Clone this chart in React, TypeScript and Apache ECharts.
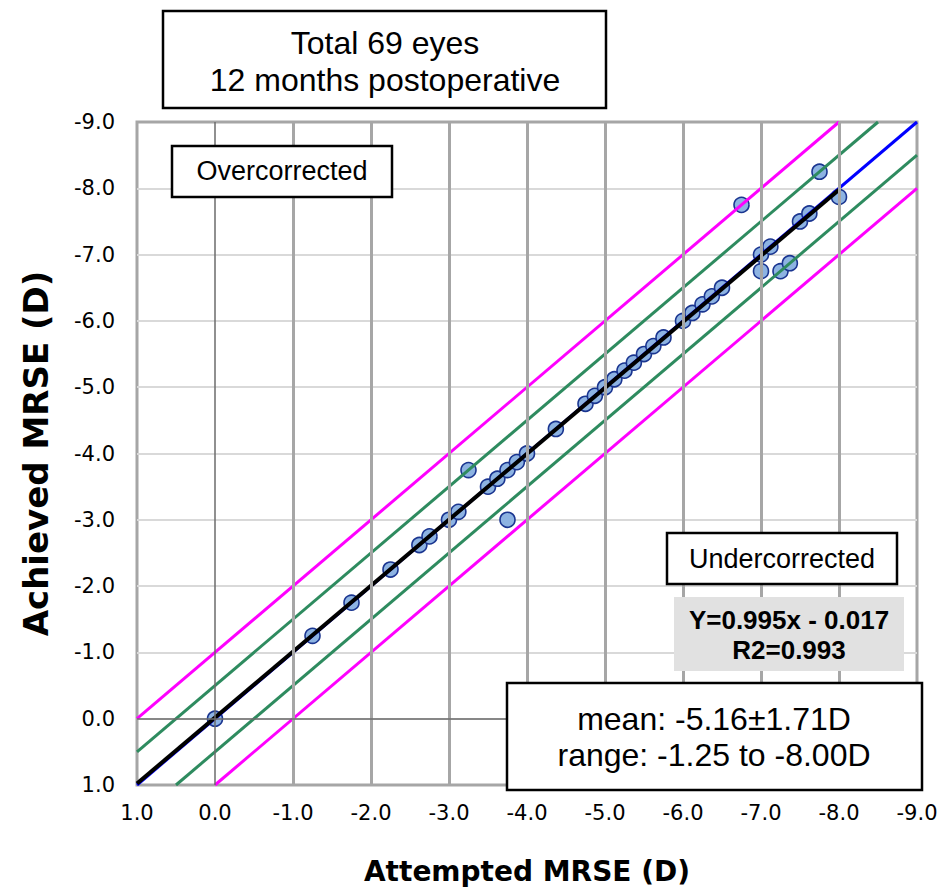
import React, { useEffect, useRef } from "react";
import * as echarts from "echarts";

// Attempted vs achieved MRSE (D)
const attempted = [
  0.0, -1.25, -1.75, -2.25, -2.62, -2.75, -3.0, -3.12, -3.25, -3.5, -3.62, -3.75, -3.75, -3.87, -4.0,
  -4.37, -4.75, -4.87, -5.0, -5.12, -5.25, -5.37, -5.5, -5.62, -5.75, -6.0, -6.12, -6.25, -6.37, -6.5,
  -6.75, -7.0, -7.12, -7.0, -7.25, -7.37, -7.5, -7.62, -7.75, -8.0,
];
const achieved = [
  0.0, -1.25, -1.75, -2.25, -2.62, -2.75, -3.0, -3.12, -3.75, -3.5, -3.62, -3.0, -3.75, -3.87, -4.0,
  -4.37, -4.75, -4.87, -5.0, -5.12, -5.25, -5.37, -5.5, -5.62, -5.75, -6.0, -6.12, -6.25, -6.37, -6.5,
  -7.75, -7.0, -7.12, -6.75, -6.75, -6.87, -7.5, -7.62, -8.25, -7.87,
];

// Reference lines (attempted, achieved)
const identityLine = [[1, 1], [-9, -9]];
const plusOneUpper = [[1, 0], [-8, -9]];
const plusOneLower = [[0, 1], [-9, -8]];
const halfUpper = [[1, 0.5], [-8.5, -9]];
const halfLower = [[0.5, 1], [-9, -8.5]];

// Trend line Y = 0.995x - 0.017
const trendSlope = 0.995;
const trendIntercept = -0.017;
const trendRange = [1, -8];

const axisMin = -9;
const axisMax = 1;
const verticalGrid = [-8, -7, -6, -5, -4, -3, -2, -1, 0];

const titleLines = ["Total 69 eyes", "12 months postoperative"];
const equationLines = ["Y=0.995x - 0.017", "R2=0.993"];
const meanLines = ["mean: -5.16\u00b11.71D", "range: -1.25 to -8.00D"];

const boxFont = '"Liberation Sans", Arial, sans-serif';
const axisFont = '"DejaVu Sans", Verdana, sans-serif';

function textEl(text: string, x: number, y: number, size: number, weight = "normal") {
  return {
    type: "text",
    x,
    y,
    z: 110,
    style: {
      text,
      fill: "#000",
      fontSize: size,
      fontFamily: boxFont,
      fontWeight: weight,
      align: "center",
      textAlign: "center",
      verticalAlign: "middle",
      textVerticalAlign: "middle",
    },
  };
}

function boxEl(x: number, y: number, w: number, h: number, fill = "#fff", stroke: string | null = "#000") {
  return {
    type: "rect",
    z: 100,
    shape: { x, y, width: w, height: h },
    style: { fill, stroke: stroke ?? "none", lineWidth: stroke ? 2.5 : 0 },
  };
}

export default function App() {
  const ref = useRef<HTMLDivElement>(null);

  useEffect(() => {
    document.body.style.margin = "0";
    if (!ref.current) return;
    const chart = echarts.init(ref.current, null, { renderer: "svg" });

    const points = attempted.map((a, i) => [a, achieved[i]]);
    const trend = trendRange.map((x) => [x, trendSlope * x + trendIntercept]);

    const refLine = (data: number[][], color: string, width: number) => ({
      type: "line",
      data,
      showSymbol: false,
      symbol: "none",
      silent: true,
      lineStyle: { color, width },
    });

    const option = {
      animation: false,
      backgroundColor: "#fff",
      grid: {
        left: 137,
        right: 27,
        top: 122,
        bottom: 103,
        containLabel: false,
        outerBoundsMode: "none",
        show: true,
        borderColor: "#a6a6a6",
        borderWidth: 3,
        backgroundColor: "transparent",
      },
      xAxis: {
        type: "value",
        min: axisMin,
        max: axisMax,
        interval: 1,
        inverse: true,
        axisLine: { show: false },
        axisTick: { show: false },
        splitLine: { show: false },
        axisLabel: {
          formatter: (v: number) => v.toFixed(1),
          fontFamily: axisFont,
          fontSize: 21,
          color: "#000",
          margin: 17,
        },
        name: "Attempted MRSE (D)",
        nameLocation: "middle",
        nameGap: 72,
        nameTextStyle: { fontFamily: axisFont, fontWeight: "bold", fontSize: 28, color: "#000" },
      },
      yAxis: {
        type: "value",
        min: axisMin,
        max: axisMax,
        interval: 1,
        inverse: true,
        axisLine: { show: false },
        axisTick: { show: false },
        splitLine: {
          show: true,
          showMinLine: false,
          showMaxLine: false,
          lineStyle: { color: "#d9d9d9", width: 2 },
        },
        axisLabel: {
          formatter: (v: number) => v.toFixed(1),
          fontFamily: axisFont,
          fontSize: 21,
          color: "#000",
          margin: 22,
        },
        name: "Achieved MRSE (D)",
        nameLocation: "middle",
        nameGap: 84,
        nameTextStyle: { fontFamily: axisFont, fontWeight: "bold", fontSize: 34, color: "#000" },
      },
      series: [
        {
          type: "line",
          data: [],
          z: 1,
          silent: true,
          markLine: {
            silent: true,
            symbol: "none",
            label: { show: false },
            animation: false,
            data: [
              ...verticalGrid.map((v) => ({
                xAxis: v,
                lineStyle: v === 0
                  ? { color: "#6b6b6b", width: 1.5, type: "solid" }
                  : { color: "#a6a6a6", width: 3, type: "solid" },
              })),
              { yAxis: 0, lineStyle: { color: "#6b6b6b", width: 1.5, type: "solid" } },
            ],
          },
        },
        refLine(plusOneUpper, "#ff00ff", 3),
        refLine(plusOneLower, "#ff00ff", 3),
        refLine(halfUpper, "#2e8b5f", 3),
        refLine(halfLower, "#2e8b5f", 3),
        refLine(identityLine, "#0000ff", 3),
        {
          type: "scatter",
          data: points,
          symbol: "circle",
          symbolSize: 15,
          itemStyle: { color: "#8db3e2", borderColor: "#1a3590", borderWidth: 1.6, opacity: 1 },
        },
        refLine(trend, "#000000", 4),
      ],
      graphic: [
        boxEl(163, 11, 443, 97),
        textEl(titleLines[0], 385, 43, 32),
        textEl(titleLines[1], 385, 80, 32),
        boxEl(172, 146, 220, 51),
        textEl("Overcorrected", 282, 171, 27),
        boxEl(667, 533, 230, 51),
        textEl("Undercorrected", 782, 559, 27),
        boxEl(674, 597, 230, 74, "#e1e1e1", null),
        textEl(equationLines[0], 789, 620, 26, "bold"),
        textEl(equationLines[1], 789, 650, 26, "bold"),
        boxEl(507, 683, 415, 107),
        textEl(meanLines[0], 714, 719, 32),
        textEl(meanLines[1], 714, 755, 32),
      ],
    };

    chart.setOption(option as any);
    return () => chart.dispose();
  }, []);

  return <div ref={ref} style={{ width: 944, height: 888 }} />;
}
